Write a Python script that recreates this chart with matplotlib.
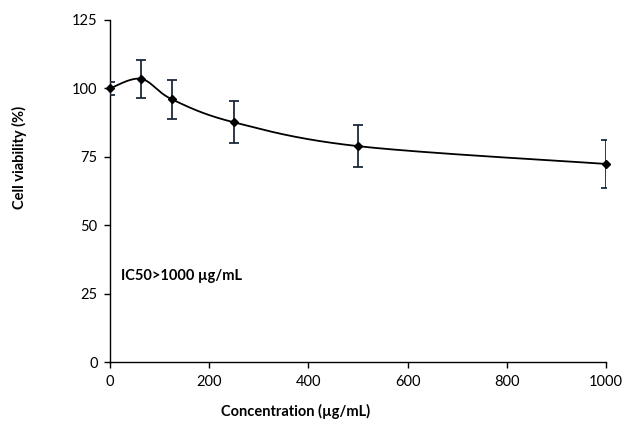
import numpy as np
import matplotlib
matplotlib.use('Agg')
import matplotlib.pyplot as plt

plt.rcParams['font.family'] = ['Lato', 'DejaVu Sans']

# Data
concentration = [0, 62.5, 125, 250, 500, 1000]
viability = [100, 103.5, 96.0, 87.6, 78.9, 72.4]
viability_err = [2.5, 7.0, 7.0, 7.7, 7.7, 8.8]


def excel_smooth(x, y, n=40):
    # Bezier smoothing similar to office "smoothed line"
    x = np.asarray(x, float)
    y = np.asarray(y, float)
    px, py = [], []
    for i in range(len(x) - 1):
        x0, y0 = (x[i - 1], y[i - 1]) if i > 0 else (x[i], y[i])
        x3, y3 = (x[i + 2], y[i + 2]) if i + 2 < len(x) else (x[i + 1], y[i + 1])
        c1x = x[i] + (x[i + 1] - x0) / 6
        c1y = y[i] + (y[i + 1] - y0) / 6
        c2x = x[i + 1] - (x3 - x[i]) / 6
        c2y = y[i + 1] - (y3 - y[i]) / 6
        t = np.linspace(0, 1, n)
        a, b, c, d = (1 - t) ** 3, 3 * t * (1 - t) ** 2, 3 * t ** 2 * (1 - t), t ** 3
        px.extend(a * x[i] + b * c1x + c * c2x + d * x[i + 1])
        py.extend(a * y[i] + b * c1y + c * c2y + d * y[i + 1])
    return np.array(px), np.array(py)


fig = plt.figure(figsize=(6.24, 4.30), dpi=100)
ax = fig.add_axes([0.1763, 0.158, 0.7947, 0.7955])

sx, sy = excel_smooth(concentration, viability)
ax.plot(sx, sy, color='black', lw=1.3, zorder=2)
ax.errorbar(concentration, viability, yerr=viability_err, fmt='none',
            ecolor='#1c2a3a', elinewidth=1.3, capsize=3.5, capthick=1.3, zorder=3)
ax.plot(concentration, viability, 'D', color='black', markersize=4.5, zorder=4, clip_on=False)

ax.set_xlim(0, 1000)
ax.set_ylim(0, 125)
ax.set_xticks([0, 200, 400, 600, 800, 1000])
ax.set_yticks([0, 25, 50, 75, 100, 125])
ax.spines['top'].set_visible(False)
ax.spines['right'].set_visible(False)
for s in ('left', 'bottom'):
    ax.spines[s].set_linewidth(1.0)
ax.tick_params(axis='both', direction='out', length=4, width=1.0, labelsize=10.5, pad=5)

# axis titles placed where the reference puts them (not centred on the axes)
fig.text(296 / 624, 1 - 411 / 430, 'Concentration (µg/mL)', fontsize=10.5,
         fontweight='bold', ha='center', va='center')
fig.text(19 / 624, 1 - 157 / 430, 'Cell viability (%)', fontsize=10.5,
         fontweight='bold', ha='center', va='center', rotation=90)

ax.text(23, 31.4, 'IC50>1000 µg/mL', fontsize=10.5, fontweight='bold', va='center')

fig.savefig('out.png', dpi=100)
